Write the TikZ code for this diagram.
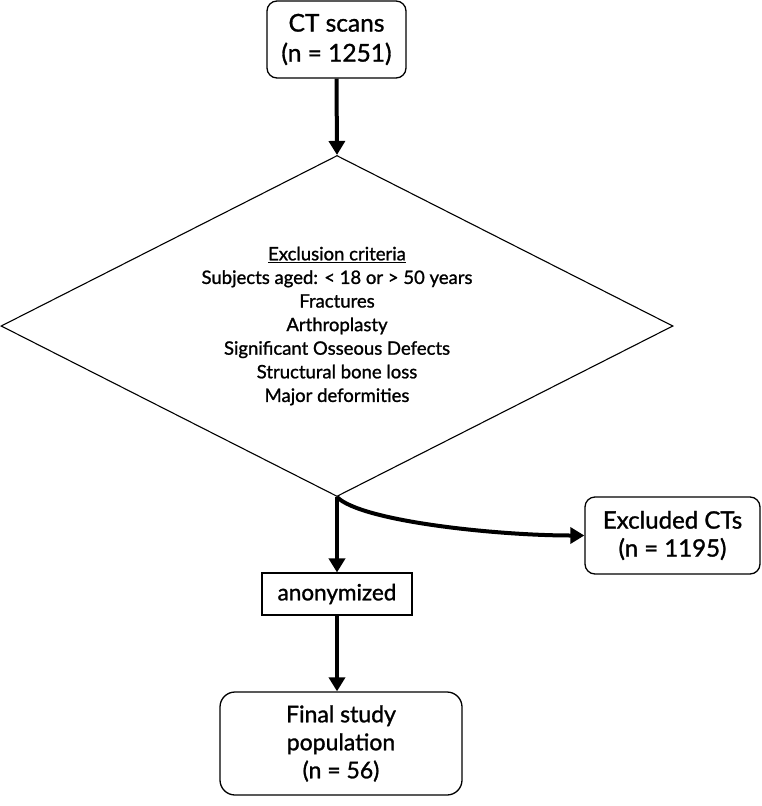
\documentclass[tikz,border=0pt]{standalone}
\usepackage{fontspec}
\setmainfont{Lato}[FakeBold=1.2]
\usepackage{tikz}
\usetikzlibrary{shapes.geometric, arrows.meta}

\begin{document}
\begin{tikzpicture}[x=1pt, y=1pt,
    rbox/.style={draw, line width=1.3pt, rounded corners=10pt, align=center, inner sep=0pt},
    flow/.style={line width=4pt, -{Triangle[length=14pt, width=16pt]}}]

      \useasboundingbox (0,0) rectangle (762,-806);

      \node[rbox, minimum width=139pt, minimum height=77pt,
        font=\fontsize{24.5}{30}\selectfont] (scans) at (336.5,-39.5) {\raisebox{-2pt}{CT scans}\\\raisebox{-2pt}{(n = 1251)}};

      \node[draw, diamond, aspect=1.97, line width=1.1pt, minimum width=672pt, minimum height=341pt,
        inner sep=0pt, align=center, font=\fontsize{18.5}{23.6}\selectfont] (crit) at (337,-326)
        {\underline{Exclusion criteria}\\Subjects aged: < 18 or > 50 years\\Fractures\\Arthroplasty\\
         Significant Osseous Defects\\Structural bone loss\\Major deformities};

      \node[draw, line width=1.1pt, minimum width=150pt, minimum height=42pt, inner sep=0pt,
        font=\fontsize{22.5}{24}\selectfont] (anon) at (337,-594) {anonymized};

      \node[rbox, minimum width=175pt, minimum height=77pt,
        font=\fontsize{24}{28}\selectfont] (excl) at (672.5,-535.5) {Excluded CTs\\(n = 1195)};

      \node[rbox, rounded corners=15pt, minimum width=242pt, minimum height=103pt,
        font=\fontsize{23}{28}\selectfont] (final) at (341,-743.5) {Final study\\population\\(n = 56)};

      \draw[flow] (scans.south) -- (crit.north);
      \draw[flow] (crit.south) -- (anon.north);
      \draw[flow] (crit.south) to[out=-45, in=180, out looseness=0.35, in looseness=0.9] (excl.west);
      \draw[flow] (anon.south) -- (anon.south |- final.north);

    \end{tikzpicture}
\end{document}
